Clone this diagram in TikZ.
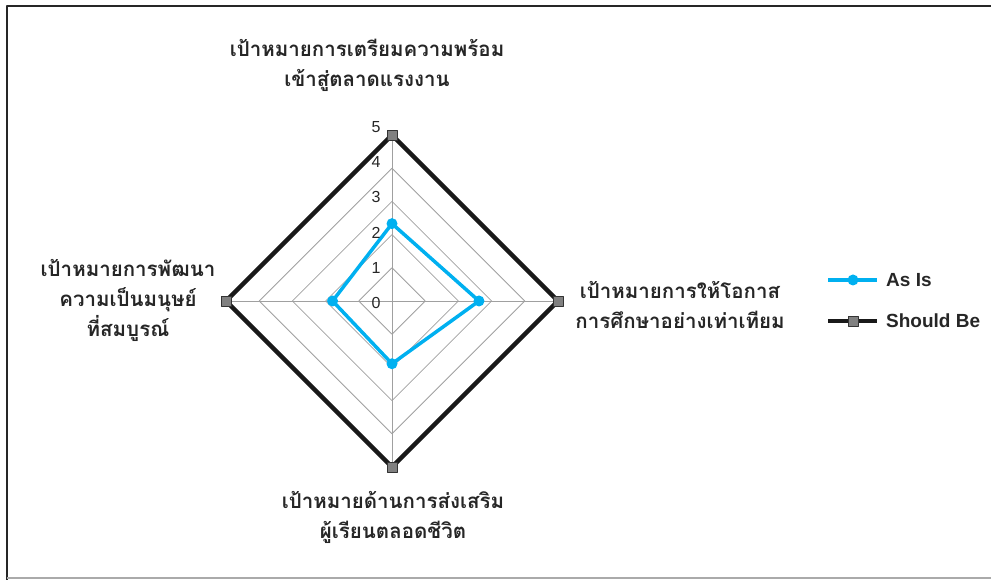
\documentclass[tikz,border=0pt]{standalone}
\usepackage{fontspec}
\setmainfont{Liberation Sans}
\newfontfamily\thaifont[Script=Thai]{Loma}
\usetikzlibrary{positioning}
\definecolor{asisblue}{RGB}{0,176,240}
\definecolor{markgray}{RGB}{128,128,128}
\definecolor{gridgray}{RGB}{160,160,160}
\definecolor{framegray}{RGB}{170,170,170}

\tikzset{
  gridline/.style={color=gridgray, line width=0.8pt},
  shouldbe/.style={line width=4.5pt, color=black!90, line join=miter},
  asis/.style={line width=3.5pt, color=asisblue, line join=round},
  sqmark/.style={draw=black!80, fill=markgray, line width=0.8pt, minimum size=10pt, inner sep=0pt},
  dotmark/.style={circle, fill=asisblue, minimum size=11pt, inner sep=0pt},
  axislabel/.style={align=center, font=\thaifont\bfseries\fontsize{20.5}{30}\selectfont, text=black!85},
  ticklabel/.style={font=\fontsize{16}{16}\selectfont, text=black!85, inner sep=0pt},
  legendtext/.style={anchor=west, font=\bfseries\fontsize{19}{19}\selectfont, text=black!85, inner sep=0pt}
}

\begin{document}
\begin{tikzpicture}[line cap=round,line join=round,x=1pt,y=1pt]
\useasboundingbox (0,0) rectangle (991,580);
\draw [line width=2pt, color=black!85, line cap=butt] (7,0)--(7,574)--(991,574);
\draw [line width=1.2pt, color=framegray, line cap=butt] (7,2)--(991,2);

\begin{scope}[shift={(392,279)},x=33.2pt,y=33.2pt]
\foreach \r in {1,...,5}
  \draw [gridline] (\r,0)--(0,\r)--(-\r,0)--(0,-\r)--cycle;
\draw [gridline] (-5,0)--(5,0);
\draw [gridline] (0,-5)--(0,5);
\draw [shouldbe] (5,0)--(0,5)--(-5,0)--(0,-5)--cycle;
\draw [asis] (2.62,0)--(0,2.33)--(-1.79,0)--(0,-1.89)--cycle;
\foreach \p in {(5,0),(0,5),(-5,0),(0,-5)}
  \node [sqmark] at \p {};
\foreach \p in {(2.62,0),(0,2.33),(-1.79,0),(0,-1.89)}
  \node [dotmark] at \p {};
\end{scope}

\foreach \k in {0,...,5}
  \node [ticklabel] at (376,{277+35.2*\k}) {\k};

\node [axislabel] (goaltop) at (367,515) {เป้าหมายการเตรียมความพร้อม\\เข้าสู่ตลาดแรงงาน};
\node [axislabel] (goalright) at (680,275) {เป้าหมายการให้โอกาส\\การศึกษาอย่างเท่าเทียม};
\node [axislabel] (goalbottom) at (393,63) {เป้าหมายด้านการส่งเสริม\\ผู้เรียนตลอดชีวิต};
\node [axislabel] (goalleft) at (128,280) {เป้าหมายการพัฒนา\\ความเป็นมนุษย์\\ที่สมบูรณ์};

\draw [asis, line cap=butt] (828,300)--(877,300);
\node [dotmark] (keyasis) at (853,300) {};
\node [legendtext] at (886,300) {As Is};
\draw [shouldbe, line cap=butt] (828,259)--(877,259);
\node [sqmark] (keyshould) at (853,259) {};
\node [legendtext] at (886,259) {Should Be};
\end{tikzpicture}
\end{document}
